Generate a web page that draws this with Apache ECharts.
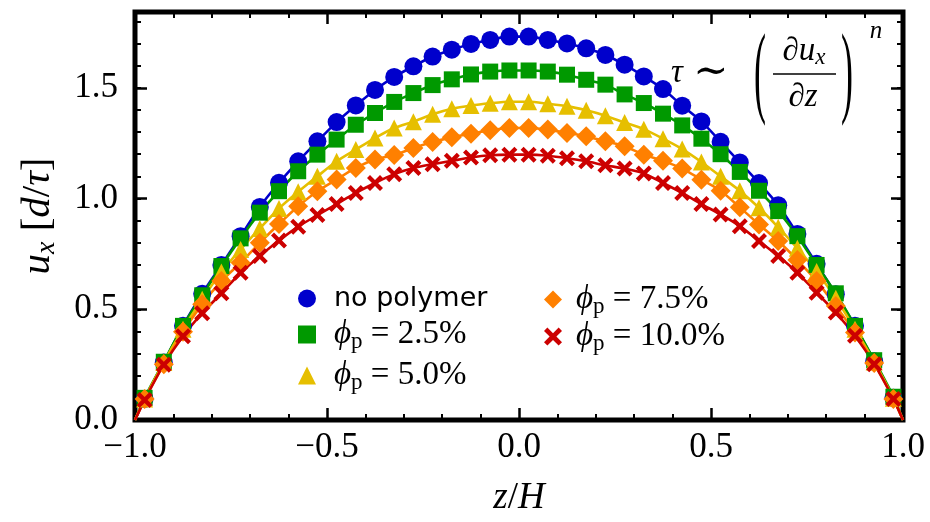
<!DOCTYPE html>
<html>
<head>
<meta charset="utf-8">
<title>Velocity profiles</title>
<script src="https://cdn.jsdelivr.net/npm/echarts@6/dist/echarts.min.js"></script>
<style>
  html, body { margin: 0; padding: 0; background: #fff; }
  #chart { width: 930px; height: 522px; }
</style>
</head>
<body>
<div id="chart"></div>
<script>
// bin centres along z/H
const zBins = [-0.975, -0.925, -0.875, -0.825, -0.775, -0.725, -0.675, -0.625, -0.575, -0.525,
  -0.475, -0.425, -0.375, -0.325, -0.275, -0.225, -0.175, -0.125, -0.075, -0.025,
  0.025, 0.075, 0.125, 0.175, 0.225, 0.275, 0.325, 0.375, 0.425, 0.475,
  0.525, 0.575, 0.625, 0.675, 0.725, 0.775, 0.825, 0.875, 0.925, 0.975];
// the fitted profiles go to zero at the walls
const wallZ = [-1, 1];
const wallU = 0;

const uNoPolymer = [0.095, 0.26, 0.425, 0.57, 0.70, 0.83, 0.962, 1.071, 1.168, 1.258,
  1.345, 1.42, 1.49, 1.549, 1.597, 1.641, 1.672, 1.698, 1.716, 1.731,
  1.731, 1.716, 1.70, 1.678, 1.648, 1.604, 1.551, 1.494, 1.419, 1.348,
  1.256, 1.163, 1.07, 0.97, 0.84, 0.705, 0.568, 0.425, 0.265, 0.10];
const uPhi25 = [0.10, 0.263, 0.425, 0.563, 0.695, 0.82, 0.936, 1.033, 1.123, 1.198,
  1.266, 1.333, 1.386, 1.436, 1.476, 1.512, 1.538, 1.560, 1.573, 1.578,
  1.578, 1.573, 1.559, 1.536, 1.514, 1.47, 1.431, 1.383, 1.33, 1.27,
  1.20, 1.12, 1.035, 0.943, 0.83, 0.70, 0.572, 0.425, 0.27, 0.105];
const uPhi50 = [0.095, 0.26, 0.41, 0.545, 0.668, 0.77, 0.865, 0.955, 1.03, 1.10,
  1.168, 1.221, 1.273, 1.318, 1.347, 1.38, 1.405, 1.42, 1.43, 1.437,
  1.437, 1.428, 1.417, 1.398, 1.374, 1.343, 1.313, 1.27, 1.223, 1.165,
  1.10, 1.035, 0.958, 0.87, 0.775, 0.67, 0.55, 0.41, 0.262, 0.098];
const uPhi75 = [0.095, 0.252, 0.398, 0.523, 0.627, 0.71, 0.80, 0.885, 0.965, 1.033,
  1.086, 1.138, 1.176, 1.196, 1.228, 1.255, 1.276, 1.292, 1.308, 1.318,
  1.318, 1.311, 1.296, 1.281, 1.258, 1.236, 1.198, 1.17, 1.135, 1.085,
  1.035, 0.96, 0.883, 0.808, 0.722, 0.627, 0.515, 0.395, 0.257, 0.095];
const uPhi100 = [0.09, 0.25, 0.378, 0.482, 0.572, 0.665, 0.74, 0.81, 0.873, 0.925,
  0.975, 1.025, 1.07, 1.11, 1.138, 1.155, 1.17, 1.185, 1.195, 1.198,
  1.198, 1.193, 1.182, 1.168, 1.15, 1.135, 1.113, 1.07, 1.025, 0.975,
  0.928, 0.875, 0.808, 0.74, 0.665, 0.575, 0.485, 0.38, 0.252, 0.095];

const seriesNames = ["no polymer", "phi 2.5", "phi 5.0", "phi 7.5", "phi 10.0"];
const phiLabels = ["", "2.5%", "5.0%", "7.5%", "10.0%"];
const xTickLabels = ["\u22121.0", "\u22120.5", "0.0", "0.5", "1.0"];
const yTickLabels = ["0.0", "0.5", "1.0", "1.5"];

const SERIF = "'Liberation Serif', 'DejaVu Serif', serif";
const colors = ["#0000cc", "#009900", "#e6bf00", "#ff8000", "#cc0000"];
const crossPath = "path://M3,0 L8,5 L13,0 L16,3 L11,8 L16,13 L13,16 L8,11 L3,16 L0,13 L5,8 L0,3 Z";
const symbols = ["circle", "rect", "triangle", "diamond", crossPath];
const symbolSizes = [18, 16, 17, 20, 16];

function profile(values) {
  const pts = [{ value: [wallZ[0], wallU], symbol: "none" }];
  zBins.forEach((z, i) => pts.push([z, values[i]]));
  pts.push({ value: [wallZ[1], wallU], symbol: "none" });
  return pts;
}

const allValues = [uNoPolymer, uPhi25, uPhi50, uPhi75, uPhi100];

function mathRich(padLeft) {
  return {
    it: { fontFamily: SERIF, fontStyle: "italic", fontSize: 33, lineHeight: 30, color: "#000" },
    it0: { fontFamily: SERIF, fontStyle: "italic", fontSize: 33, lineHeight: 30, color: "#000", padding: [0, 0, 0, padLeft] },
    rm: { fontFamily: SERIF, fontSize: 33, lineHeight: 30, color: "#000" },
    big: { fontFamily: SERIF, fontSize: 42, lineHeight: 30, color: "#000" },
    sub: { fontFamily: SERIF, fontSize: 23, lineHeight: 18, padding: [14, 0, 0, 0], color: "#000" },
    subit: { fontFamily: SERIF, fontStyle: "italic", fontSize: 23, lineHeight: 18, padding: [14, 0, 0, 0], color: "#000" },
    sf0: { fontFamily: "'DejaVu Sans', sans-serif", fontSize: 27, lineHeight: 30, color: "#000", padding: [0, 0, 0, padLeft] }
  };
}

function legendLabel(name) {
  const i = seriesNames.indexOf(name);
  if (i === 0) return "{sf0|no polymer}";
  return "{it0|\u03d5}{sub|p}{rm| = " + phiLabels[i] + "}";
}

function legendBox(left, top, padLeft, gap, names) {
  return {
    orient: "vertical",
    left: left,
    top: top,
    itemWidth: 18,
    itemHeight: 18,
    itemGap: gap,
    selectedMode: false,
    formatter: legendLabel,
    textStyle: { rich: mathRich(padLeft) },
    data: names.map((n) => ({ name: n, icon: symbols[seriesNames.indexOf(n)] }))
  };
}

const tickMajor = { show: true, inside: true, length: 12, lineStyle: { color: "#000", width: 2.5 } };
const tickMinor = { show: true, inside: true, length: 6, lineStyle: { color: "#000", width: 2 } };
const noLine = { show: false, onZero: false };
const yMax = 1.842;

const myChart = echarts.init(document.getElementById("chart"));
const option = {
  animation: false,
  backgroundColor: "#fff",
  grid: { left: 135, right: 27, top: 12, bottom: 102, show: true, borderColor: "#000", borderWidth: 5, backgroundColor: "transparent" },
  legend: [
    legendBox(293, 280, 13, 4, seriesNames.slice(0, 3)),
    legendBox(539, 276, 9, 0, seriesNames.slice(3))
  ],
  xAxis: [
    {
      type: "value", position: "bottom", min: -1, max: 1, interval: 0.5,
      axisLine: noLine, splitLine: { show: false },
      axisTick: tickMajor,
      minorTick: { show: true, splitNumber: 5, length: 6, lineStyle: { color: "#000", width: 2 } },
      axisLabel: {
        margin: 10, color: "#000", fontFamily: SERIF, fontSize: 35,
        formatter: (v) => xTickLabels[Math.round((v + 1) / 0.5)]
      },
      name: "{it|z}{rm|/}{it|H}", nameLocation: "middle", nameGap: 60,
      nameTextStyle: { rich: { it: { fontFamily: SERIF, fontStyle: "italic", fontSize: 37, color: "#000" }, rm: { fontFamily: SERIF, fontSize: 37, color: "#000" } } }
    },
    {
      type: "value", position: "top", min: -1, max: 1, interval: 0.5,
      axisLine: noLine, splitLine: { show: false },
      axisTick: tickMajor,
      minorTick: { show: true, splitNumber: 5, length: 6, lineStyle: { color: "#000", width: 2 } },
      axisLabel: { show: false }
    }
  ],
  yAxis: [
    {
      type: "value", position: "left", min: 0, max: yMax, interval: 0.5,
      axisLine: noLine, splitLine: { show: false },
      axisTick: tickMajor,
      axisLabel: {
        margin: 17, color: "#000", fontFamily: SERIF, fontSize: 35, showMaxLabel: false,
        formatter: (v) => yTickLabels[Math.round(v / 0.5)] || ""
      },
      name: "{it|u}{subit|x}{rm| [}{it|d}{rm|/}{it|\u03c4}{rm|]}", nameLocation: "middle", nameGap: 78,
      nameTextStyle: { rich: {
        it: { fontFamily: SERIF, fontStyle: "italic", fontSize: 41, lineHeight: 38, color: "#000" },
        rm: { fontFamily: SERIF, fontSize: 41, lineHeight: 38, color: "#000" },
        subit: { fontFamily: SERIF, fontStyle: "italic", fontSize: 28, lineHeight: 22, padding: [18, 0, 0, 0], color: "#000" }
      } }
    },
    {
      type: "value", position: "left", min: 0, max: yMax, interval: 0.1,
      axisLine: noLine, splitLine: { show: false },
      axisTick: tickMinor, axisLabel: { show: false }
    },
    {
      type: "value", position: "right", min: 0, max: yMax, interval: 0.5,
      axisLine: noLine, splitLine: { show: false },
      axisTick: tickMajor, axisLabel: { show: false }
    },
    {
      type: "value", position: "right", min: 0, max: yMax, interval: 0.1,
      axisLine: noLine, splitLine: { show: false },
      axisTick: tickMinor, axisLabel: { show: false }
    }
  ],
  graphic: [
    { type: "text", x: 671, y: 73, style: { text: "{it|\u03c4}{big| \u223c}", rich: mathRich(0), verticalAlign: "middle" } },
    { type: "text", x: 760, y: 78, scaleY: 2.8, style: { text: "(", font: "36px " + SERIF, fill: "#000", align: "center", verticalAlign: "middle" } },
    { type: "text", x: 804, y: 51, style: { text: "{rm|\u2202}{it|u}{subit|x}", rich: mathRich(0), align: "center", verticalAlign: "middle" } },
    { type: "line", shape: { x1: 773, y1: 74, x2: 836, y2: 74 }, style: { stroke: "#000", lineWidth: 1.6 } },
    { type: "text", x: 803, y: 97, style: { text: "{rm|\u2202}{it|z}", rich: mathRich(0), align: "center", verticalAlign: "middle" } },
    { type: "text", x: 847, y: 78, scaleY: 2.8, style: { text: ")", font: "36px " + SERIF, fill: "#000", align: "center", verticalAlign: "middle" } },
    { type: "text", x: 876, y: 31, style: { text: "n", font: "italic 25px " + SERIF, fill: "#000", align: "center", verticalAlign: "middle" } }
  ],
  series: allValues.map((vals, i) => ({
    name: seriesNames[i],
    type: "line",
    xAxisIndex: 0,
    yAxisIndex: 0,
    data: profile(vals),
    smooth: 0.25,
    symbol: symbols[i],
    symbolSize: symbolSizes[i],
    showAllSymbol: true,
    color: colors[i],
    itemStyle: { color: colors[i] },
    lineStyle: { color: colors[i], width: 2.6 },
    emphasis: { disabled: true }
  }))
};
myChart.setOption(option);
window.onresize = function () {
  myChart.resize();
};
</script>
</body>
</html>
